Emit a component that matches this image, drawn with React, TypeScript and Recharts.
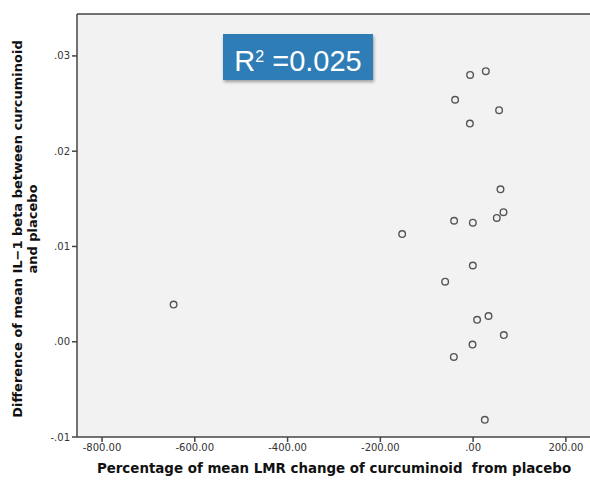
import { ScatterChart, Scatter, XAxis, YAxis, CartesianGrid, ReferenceLine } from "recharts";

// Percentage of mean LMR change (x) vs difference of mean IL-1 beta (y)
const lmrChange = [
  -6.5, 27.4, -38.8, 56, -7, 59, 65.5, 51, -41, -0.6,
  -153, -645.7, -0.6, -60.3, 8.6, 33.2, 66.2, -1.3, -41.6, 25.2,
];
const il1Diff = [
  0.028, 0.0284, 0.0254, 0.0243, 0.0229, 0.016, 0.0136, 0.013, 0.0127, 0.0125,
  0.0113, 0.0039, 0.008, 0.0063, 0.0023, 0.0027, 0.0007, -0.0003, -0.0016, -0.0082,
];
const xTicks = [-800, -600, -400, -200, 0, 200];
const yTicks = [-0.01, 0, 0.01, 0.02, 0.03];
const rSquared = "0.025";

const X_DOMAIN: [number, number] = [-854, 252];
const Y_DOMAIN: [number, number] = [-0.01, 0.0344];

const data = lmrChange.map((x, i) => ({ x, y: il1Diff[i] }));

const FONT = "'DejaVu Sans', sans-serif";
const tickStyle = { fill: "#333", fontSize: 10, fontFamily: FONT };

function fmtX(v: number): string {
  return v === 0 ? ".00" : v.toFixed(2);
}
function fmtY(v: number): string {
  if (Math.abs(v) < 1e-9) return ".00";
  return (v < 0 ? "-" : "") + Math.abs(v).toFixed(2).replace(/^0/, "");
}

const Dot = (p: any) => (
  <circle cx={p.cx} cy={p.cy} r={3.3} fill="none" stroke="#555" strokeWidth={1.4} />
);

export default function App() {
  return (
    <div style={{ position: "absolute", left: 0, top: 0, width: 590, height: 480, background: "#fff" }}>
      <ScatterChart width={590} height={480} margin={{ top: 14, right: 0, bottom: 13, left: 37 }}>
        <CartesianGrid fill="#f2f2f2" horizontal={false} vertical={false} />
        <XAxis
          type="number"
          dataKey="x"
          domain={X_DOMAIN}
          ticks={xTicks}
          allowDataOverflow
          tickFormatter={fmtX}
          height={30}
          tick={tickStyle}
          tickSize={5}
          stroke="#444"
          strokeWidth={1.5}
          label={() => (
            <text x={334} y={473} textAnchor="middle" fontFamily={FONT} fontWeight="bold" fontSize={13.4} fill="#111" style={{ whiteSpace: "pre" }}>
              {"Percentage of mean LMR change of curcuminoid\u00a0 from placebo"}
            </text>
          )}
        />
        <YAxis
          type="number"
          dataKey="y"
          domain={Y_DOMAIN}
          ticks={yTicks}
          allowDataOverflow
          tickFormatter={fmtY}
          width={40}
          tick={tickStyle}
          tickSize={5}
          stroke="#444"
          strokeWidth={1.5}
          label={() => (
            <g transform="translate(0,229) rotate(-90)" fontFamily={FONT} fontWeight="bold" fontSize={13} fill="#111">
              <text x={0} y={22} textAnchor="middle">Difference of mean IL−1 beta between curcuminoid</text>
              <text x={0} y={37} textAnchor="middle">and placebo</text>
            </g>
          )}
        />
        <ReferenceLine y={Y_DOMAIN[1]} stroke="#444" strokeWidth={1.5} />
        <Scatter data={data} shape={Dot} isAnimationActive={false} />
      </ScatterChart>
      <div
        style={{
          position: "absolute",
          left: 223,
          top: 34,
          width: 150,
          height: 46,
          background: "#2f7db6",
          boxShadow: "1px 2px 3px rgba(0,0,0,0.35)",
          color: "#fff",
          fontFamily: "'Liberation Sans', Arial, sans-serif",
          fontWeight: 300,
          fontSize: 29,
          lineHeight: "46px",
          textAlign: "center",
        }}
      >
        R<span style={{ fontSize: 16, verticalAlign: "9px" }}>2</span> ={rSquared}
      </div>
    </div>
  );
}
